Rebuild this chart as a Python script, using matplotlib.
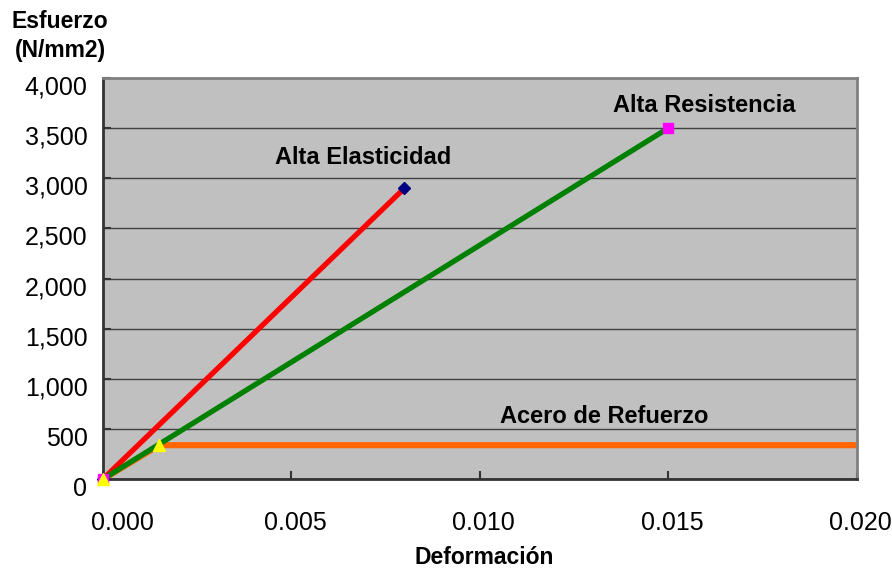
import matplotlib
matplotlib.use("Agg")
import matplotlib.pyplot as plt
import matplotlib.transforms as mtransforms

plt.rcParams['font.family'] = ['Liberation Sans', 'DejaVu Sans']

# Data
elast_x = [0.0, 0.008]
elast_y = [0, 2900]
resist_x = [0.0, 0.015]
resist_y = [0, 3500]
acero_x = [0.0, 0.0015, 0.02]
acero_y = [0, 340, 340]

x_ticks = [0.000, 0.005, 0.010, 0.015, 0.020]
x_labels = ["0.000", "0.005", "0.010", "0.015", "0.020"]
y_ticks = [0, 500, 1000, 1500, 2000, 2500, 3000, 3500, 4000]
y_labels = ["0", "500", "1,000", "1,500", "2,000", "2,500", "3,000", "3,500", "4,000"]

fig = plt.figure(figsize=(8.92, 5.69), dpi=100)
W, H = 892, 569
left, right, top, bottom = 102.7, 856.7, 78.0, 479.3
ax = fig.add_axes([left / W, 1 - bottom / H, (right - left) / W, (bottom - top) / H])
ax.set_facecolor('#C0C0C0')
ax.set_xlim(0, 0.02)
ax.set_ylim(0, 4000)

ax.grid(axis='y', color='#404040', linewidth=1.0, zorder=1)
ax.set_axisbelow(True)

# Lines
ax.plot(acero_x, acero_y, color='#FF6600', linewidth=4.4, zorder=2, solid_capstyle='butt')
ax.plot(elast_x, elast_y, color='#FF0000', linewidth=3.8, zorder=3, solid_capstyle='butt')
ax.plot(resist_x, resist_y, color='#008000', linewidth=3.8, zorder=4, solid_capstyle='butt')

# Markers
ax.plot(elast_x, elast_y, linestyle='none', marker='D', markersize=6.5,
        color='#000080', zorder=5, clip_on=False)
ax.plot(resist_x, resist_y, linestyle='none', marker='s', markersize=7,
        color='#FF00FF', zorder=6, clip_on=False)
ax.plot(acero_x[:2], acero_y[:2], linestyle='none', marker='^', markersize=8,
        color='#FFFF00', zorder=7, clip_on=False)

# Annotations
ax.text(0.006905, 3205, "Alta Elasticidad", ha='center', va='center',
        fontsize=17, fontweight='bold', zorder=8)
ax.text(0.01595, 3725, "Alta Resistencia", ha='center', va='center',
        fontsize=17, fontweight='bold', zorder=8)
ax.text(0.0133, 621, "Acero de Refuerzo", ha='center', va='center',
        fontsize=17, fontweight='bold', zorder=8)

# Spines
for s in ['left', 'bottom']:
    ax.spines[s].set_color('#333333')
    ax.spines[s].set_linewidth(2.0)
for s in ['top', 'right']:
    ax.spines[s].set_color('#808080')
    ax.spines[s].set_linewidth(2.0)

ax.set_xticks(x_ticks)
ax.set_xticklabels(x_labels)
ax.set_yticks(y_ticks)
ax.set_yticklabels(y_labels)
ax.tick_params(axis='both', direction='in', length=6, width=1.5, color='#333333',
               labelsize=18)
ax.tick_params(axis='x', pad=23)
ax.tick_params(axis='y', pad=11)

# shift y labels down slightly, x labels slightly right
dy = mtransforms.ScaledTranslation(0, -7 / 100, fig.dpi_scale_trans)
for lab in ax.get_yticklabels():
    lab.set_transform(lab.get_transform() + dy)
xlabs = ax.get_xticklabels()
for i, lab in enumerate(xlabs):
    shift = 20 if i == 0 else 4
    lab.set_transform(lab.get_transform() +
                      mtransforms.ScaledTranslation(shift / 100, 0, fig.dpi_scale_trans))

fig.text(60 / W, 1 - 22 / H, "Esfuerzo", ha='center', va='center',
         fontsize=16.5, fontweight='bold')
fig.text(60 / W, 1 - 50 / H, "(N/mm2)", ha='center', va='center',
         fontsize=16.5, fontweight='bold')
fig.text(484 / W, 1 - 558 / H, "Deformación", ha='center', va='center',
         fontsize=16.5, fontweight='bold')

fig.savefig("out.png", dpi=100)
